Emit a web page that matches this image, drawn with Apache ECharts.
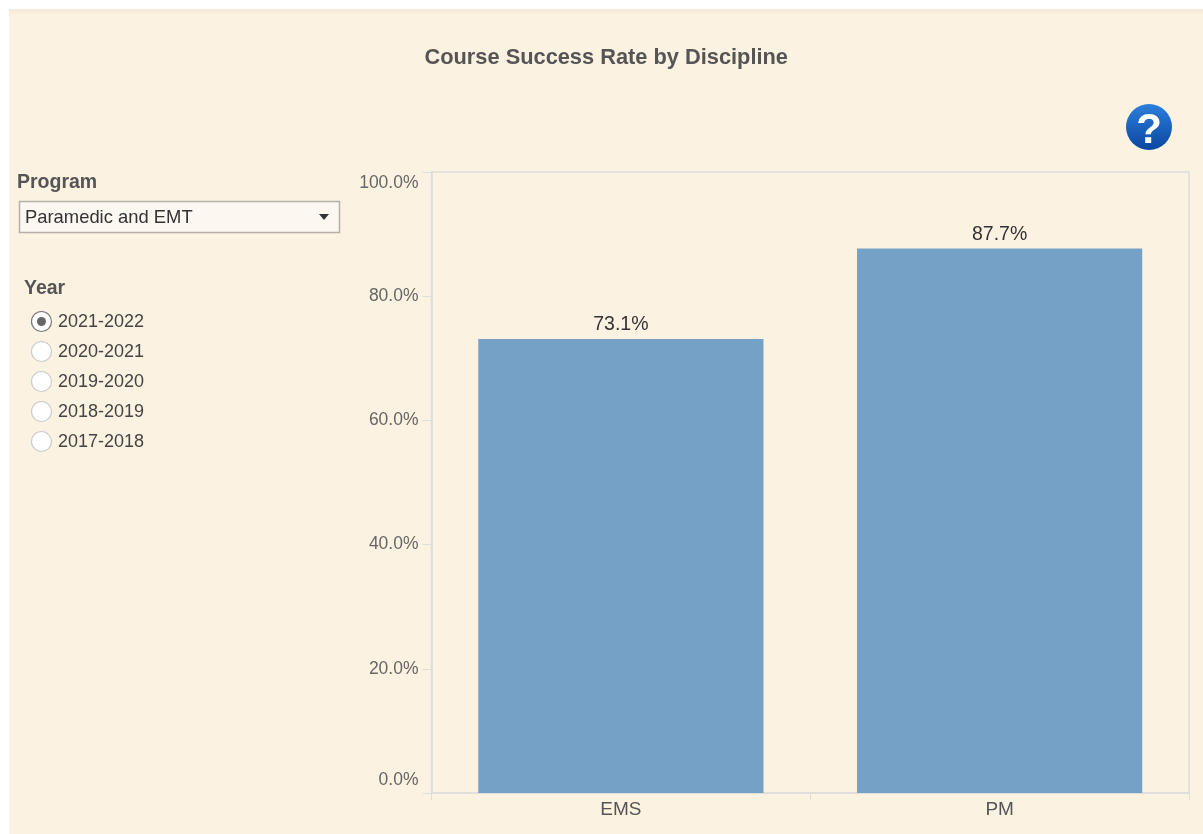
<!DOCTYPE html>
<html><head><meta charset="utf-8">
<style>html,body{margin:0;padding:0;background:#fff}#c{width:1203px;height:834px}</style>
<script src="https://cdn.jsdelivr.net/npm/echarts@6/dist/echarts.min.js"></script>
</head><body><div id="c"></div>
<script>
var disciplines = ['EMS', 'PM'];
var successRates = [73.1, 87.7];
var years = ['2021-2022', '2020-2021', '2019-2020', '2018-2019', '2017-2018'];
var selectedYear = '2021-2022';
var programLabel = 'Program';
var programValue = 'Paramedic and EMT';
var yearLabel = 'Year';
var titleText = 'Course Success Rate by Discipline';

var FONT = '"Liberation Sans", Arial, sans-serif';
var chart = echarts.init(document.getElementById('c'), null, {renderer: 'canvas'});

var g = [
  {type: 'rect', z: -10, shape: {x: 9, y: 9, width: 1194, height: 825},
   style: {fill: '#FCF2E2'}},
  {type: 'rect', z: -9, shape: {x: 9, y: 9, width: 1194, height: 6},
   style: {fill: new echarts.graphic.LinearGradient(0, 0, 0, 1, [
     {offset: 0, color: '#F3E9DA'}, {offset: 1, color: '#FCF2E2'}])}},
  {type: 'text', style: {x: 17, y: 183, text: programLabel, fill: '#555555',
    font: 'bold 19.5px ' + FONT, textVerticalAlign: 'middle'}},
  {type: 'rect', shape: {x: 19.5, y: 201.5, width: 320, height: 31},
   style: {fill: '#FCF7F0', stroke: '#B5B0A8', lineWidth: 1.5}},
  {type: 'text', style: {x: 25, y: 218, text: programValue, fill: '#333333',
    font: '18.4px ' + FONT, textVerticalAlign: 'middle'}},
  {type: 'polygon', shape: {points: [[319, 214], [329, 214], [324, 220]]},
   style: {fill: '#333333'}},
  {type: 'text', style: {x: 24, y: 289, text: yearLabel, fill: '#555555',
    font: 'bold 19.5px ' + FONT, textVerticalAlign: 'middle'}}
];
years.forEach(function (y, i) {
  var cy = 321.5 + i * 30;
  g.push({type: 'circle', shape: {cx: 41.5, cy: cy, r: 10},
    style: {fill: '#FFFFFF', stroke: i === 0 ? '#777777' : '#CCCCCC', lineWidth: 1.2}});
  if (y === selectedYear) {
    g.push({type: 'circle', shape: {cx: 41.5, cy: cy, r: 4.5}, style: {fill: '#666666'}});
  }
  g.push({type: 'text', style: {x: 58, y: cy + 0.5, text: y, fill: '#444444',
    font: '18px ' + FONT, textVerticalAlign: 'middle'}});
});
g.push({type: 'circle', shape: {cx: 1149, cy: 127, r: 23},
  style: {fill: new echarts.graphic.LinearGradient(0, 0, 0, 1, [
    {offset: 0, color: '#2C7FDC'}, {offset: 1, color: '#0A469F'}])}});
g.push({type: 'text', style: {x: 1149, y: 131, text: '?', fill: '#FFFFFF',
  font: 'bold 42px ' + FONT, textAlign: 'center', textVerticalAlign: 'middle'}});

chart.setOption({
  animation: false,
  backgroundColor: 'transparent',
  title: {text: titleText, left: 419.5, top: 42,
    textStyle: {fontFamily: FONT, fontSize: 21.8, fontWeight: 'bold', color: '#555555'}},
  graphic: g,
  grid: {left: 431.5, top: 172, width: 757.5, height: 621, show: true,
    borderColor: '#DDDDDD', borderWidth: 1.5, backgroundColor: 'transparent', containLabel: false},
  xAxis: {type: 'category', data: disciplines,
    axisLine: {lineStyle: {color: '#DDDDDD', width: 1.5}},
    axisTick: {show: true, length: 7, lineStyle: {color: '#DDDDDD', width: 1}, alignWithLabel: false},
    axisLabel: {color: '#555555', fontFamily: FONT, fontSize: 19, margin: 7}},
  yAxis: {type: 'value', min: 0, max: 100, interval: 20,
    axisLine: {show: true, lineStyle: {color: '#DDDDDD', width: 1.5}},
    axisTick: {show: true, length: 9, lineStyle: {color: '#DDDDDD', width: 1}},
    splitLine: {show: false},
    axisLabel: {color: '#666666', fontFamily: FONT, fontSize: 17.5, margin: 13,
      verticalAlignMinLabel: 'bottom', verticalAlignMaxLabel: 'top',
      rich: {
        hi: {color: '#666666', fontFamily: FONT, fontSize: 17.5, padding: [2, 0, 0, 0]},
        lo: {color: '#666666', fontFamily: FONT, fontSize: 17.5, padding: [0, 0, 4, 0]}
      },
      formatter: function (v) {
        var t = v.toFixed(1) + '%';
        if (v === 100) return '{hi|' + t + '}';
        if (v === 0) return '{lo|' + t + '}';
        return t;
      }}},
  series: [{type: 'bar', data: successRates, barCategoryGap: '24.7%',
    itemStyle: {color: '#75A1C7'},
    label: {show: true, position: 'top', distance: 4, color: '#333333',
      fontFamily: FONT, fontSize: 19.5,
      formatter: function (p) { return p.value.toFixed(1) + '%'; }}}]
});
</script></body></html>
